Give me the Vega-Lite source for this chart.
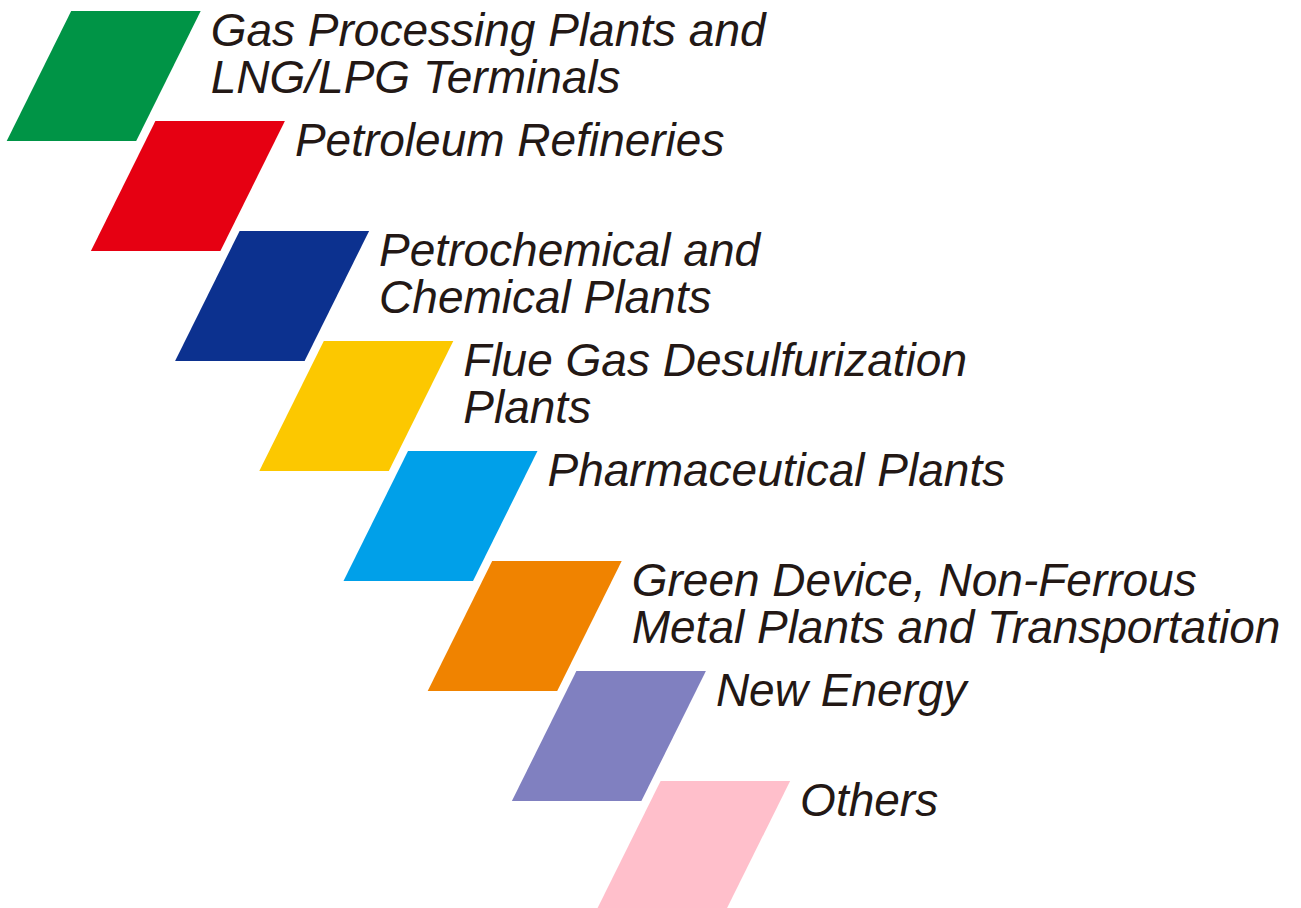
{
  "$schema": "https://vega.github.io/schema/vega-lite/v6.json",
  "width": 1301,
  "height": 908,
  "autosize": "none",
  "padding": 0,
  "background": "white",
  "config": {"view": {"stroke": null}},
  "data": {
    "values": [
      {"step": 0, "label": "Gas Processing Plants and\nLNG/LPG Terminals", "color": "Gas"},
      {"step": 1, "label": "Petroleum Refineries", "color": "Petroleum"},
      {"step": 2, "label": "Petrochemical and\nChemical Plants", "color": "Petrochemical"},
      {"step": 3, "label": "Flue Gas Desulfurization\nPlants", "color": "Flue"},
      {"step": 4, "label": "Pharmaceutical Plants", "color": "Pharma"},
      {"step": 5, "label": "Green Device, Non-Ferrous\nMetal Plants and Transportation", "color": "Green"},
      {"step": 6, "label": "New Energy", "color": "NewEnergy"},
      {"step": 7, "label": "Others", "color": "Others"}
    ]
  },
  "encoding": {
    "x": {"field": "step", "type": "quantitative", "scale": {"domain": [-1.2316, 14.2197], "nice": false, "zero": false}, "axis": null},
    "y": {"field": "step", "type": "quantitative", "scale": {"domain": [-0.6909, 7.5636], "nice": false, "zero": false, "reverse": true}, "axis": null}
  },
  "layer": [
    {
      "mark": {"type": "point", "shape": "M-0.325,-0.65L0.97,-0.65L0.325,0.65L-0.97,0.65Z", "size": 40000, "filled": true, "opacity": 1, "strokeWidth": 0, "clip": false},
      "encoding": {
        "color": {"field": "color", "type": "nominal", "legend": null,
          "scale": {"domain": ["Gas", "Petroleum", "Petrochemical", "Flue", "Pharma", "Green", "NewEnergy", "Others"],
                    "range": ["#009446", "#E60012", "#0C318F", "#FCC800", "#00A0E9", "#F08300", "#8080C0", "#FFBFCB"]}}
      }
    },
    {
      "mark": {"type": "text", "align": "left", "baseline": "alphabetic", "dx": 107, "dy": -30, "font": "Liberation Sans", "fontStyle": "italic", "fontSize": 46, "lineHeight": 47, "lineBreak": "\n", "color": "#231815"},
      "encoding": {"text": {"field": "label", "type": "nominal"}}
    }
  ]
}
